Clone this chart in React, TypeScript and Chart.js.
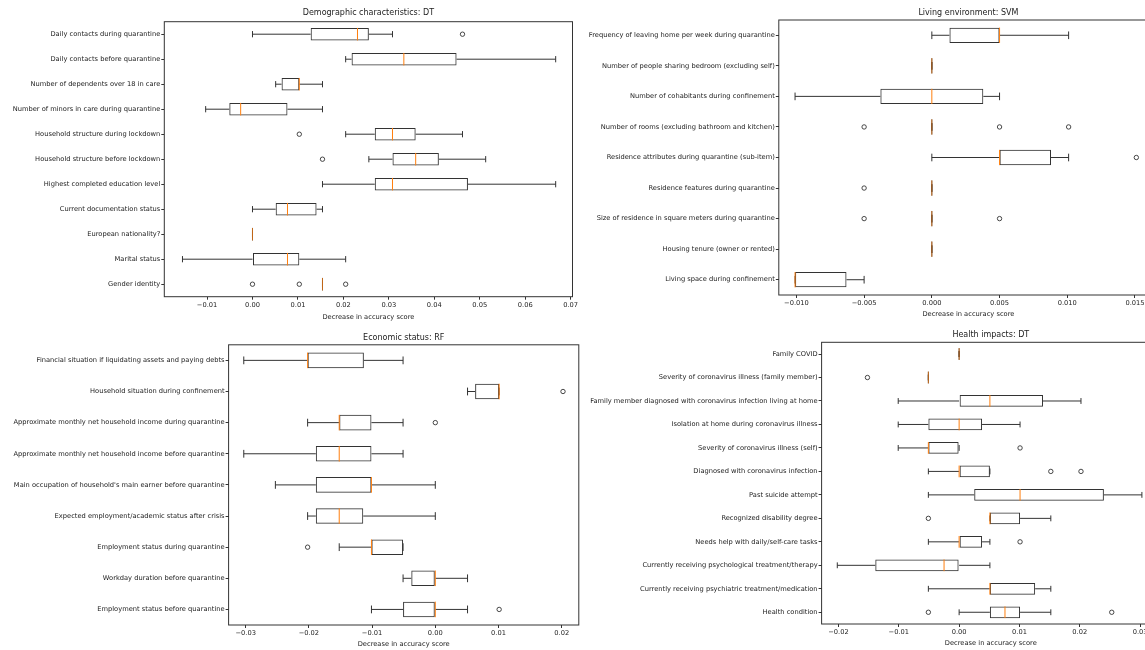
import React, { useEffect, useRef } from "react";
import { Chart, registerables } from "chart.js";

Chart.register(...registerables);

const FONT = "'DejaVu Sans', sans-serif";
const LINE = "#333333";
const MED = "#ff7f0e";
const TEXT = "#222222";
const XLABEL = "Decrease in accuracy score";

// ---------- Panel 1: Demographic characteristics: DT ----------
const demoTitle = "Demographic characteristics: DT";
const demoLabels = [
  "Daily contacts during quarantine",
  "Daily contacts before quarantine",
  "Number of dependents over 18 in care",
  "Number of minors in care during quarantine",
  "Household structure during lockdown",
  "Household structure before lockdown",
  "Highest completed education level",
  "Current documentation status",
  "European nationality?",
  "Marital status",
  "Gender identity",
];
const demoLow = [0, 0.0205, 0.0051, -0.0103, 0.0205, 0.0256, 0.0154, 0, 0, -0.0154, 0.0154];
const demoQ1 = [0.0128, 0.0218, 0.0064, -0.0051, 0.0269, 0.0308, 0.0269, 0.0051, 0, 0, 0.0154];
const demoMed = [0.0231, 0.0333, 0.0103, -0.0026, 0.0308, 0.0359, 0.0308, 0.0077, 0, 0.0077, 0.0154];
const demoQ3 = [0.0256, 0.0449, 0.0103, 0.0077, 0.0359, 0.041, 0.0474, 0.0141, 0, 0.0103, 0.0154];
const demoHigh = [0.0308, 0.0667, 0.0154, 0.0154, 0.0462, 0.0513, 0.0667, 0.0154, 0, 0.0205, 0.0154];
const demoFliers = [[0.0462], [], [], [], [0.0103], [0.0154], [], [], [], [], [0, 0.0103, 0.0205]];
const demoTicks = { min: -0.0194, max: 0.0704, step: 0.01, decimals: 2 };

// ---------- Panel 2: Living environment: SVM ----------
const livTitle = "Living environment: SVM";
const livLabels = [
  "Frequency of leaving home per week during quarantine",
  "Number of people sharing bedroom (excluding self)",
  "Number of cohabitants during confinement",
  "Number of rooms (excluding bathroom and kitchen)",
  "Residence attributes during quarantine (sub-item)",
  "Residence features during quarantine",
  "Size of residence in square meters during quarantine",
  "Housing tenure (owner or rented)",
  "Living space during confinement",
];
const livLow = [0, 0, -0.0101, 0, 0, 0, 0, 0, -0.0101];
const livQ1 = [0.0013, 0, -0.0038, 0, 0.005, 0, 0, 0, -0.0101];
const livMed = [0.005, 0, 0, 0, 0.005, 0, 0, 0, -0.0101];
const livQ3 = [0.005, 0, 0.0038, 0, 0.0088, 0, 0, 0, -0.0063];
const livHigh = [0.0101, 0, 0.005, 0, 0.0101, 0, 0, 0, -0.005];
const livFliers = [[], [], [], [-0.005, 0.005, 0.0101], [0.0151], [-0.005], [-0.005, 0.005], [], []];
const livTicks = { min: -0.0113, max: 0.0167, step: 0.005, decimals: 3 };

// ---------- Panel 3: Economic status: RF ----------
const ecoTitle = "Economic status: RF";
const ecoLabels = [
  "Financial situation if liquidating assets and paying debts",
  "Household situation during confinement",
  "Approximate monthly net household income during quarantine",
  "Approximate monthly net household income before quarantine",
  "Main occupation of household's main earner before quarantine",
  "Expected employment/academic status after crisis",
  "Employment status during quarantine",
  "Workday duration before quarantine",
  "Employment status before quarantine",
];
const ecoLow = [-0.0303, 0.0051, -0.0202, -0.0303, -0.0253, -0.0202, -0.0152, -0.0051, -0.0101];
const ecoQ1 = [-0.0202, 0.0063, -0.0152, -0.0189, -0.0189, -0.0189, -0.0101, -0.0038, -0.0051];
const ecoMed = [-0.0202, 0.0101, -0.0152, -0.0152, -0.0101, -0.0152, -0.0101, 0, 0];
const ecoQ3 = [-0.0113, 0.0101, -0.0101, -0.0101, -0.0101, -0.0114, -0.0051, 0, 0];
const ecoHigh = [-0.0051, 0.0101, -0.0051, -0.0051, 0, 0, -0.0051, 0.0051, 0.0051];
const ecoFliers = [[], [0.0202], [0], [], [], [], [-0.0202], [], [0.0101]];
const ecoTicks = { min: -0.0327, max: 0.0227, step: 0.01, decimals: 2 };

// ---------- Panel 4: Health impacts: DT ----------
const hltTitle = "Health impacts: DT";
const hltLabels = [
  "Family COVID",
  "Severity of coronavirus illness (family member)",
  "Family member diagnosed with coronavirus infection living at home",
  "Isolation at home during coronavirus illness",
  "Severity of coronavirus illness (self)",
  "Diagnosed with coronavirus infection",
  "Past suicide attempt",
  "Recognized disability degree",
  "Needs help with daily/self-care tasks",
  "Currently receiving psychological treatment/therapy",
  "Currently receiving psychiatric treatment/medication",
  "Health condition",
];
const hltLow = [0, -0.0051, -0.0101, -0.0101, -0.0101, -0.0051, -0.0051, 0.0051, -0.0051, -0.0202, -0.0051, 0];
const hltQ1 = [0, -0.0051, 0, -0.0051, -0.0051, 0, 0.0025, 0.0051, 0, -0.0139, 0.0051, 0.0051];
const hltMed = [0, -0.0051, 0.0051, 0, -0.0051, 0, 0.0101, 0.0051, 0, -0.0025, 0.0051, 0.0076];
const hltQ3 = [0, -0.0051, 0.0139, 0.0038, 0, 0.0051, 0.024, 0.0101, 0.0038, 0, 0.0126, 0.0101];
const hltHigh = [0, -0.0051, 0.0202, 0.0101, 0, 0.0051, 0.0303, 0.0152, 0.0051, 0.0051, 0.0152, 0.0152];
const hltFliers = [[], [-0.0152], [], [], [0.0101], [0.0152, 0.0202], [], [-0.0051], [0.0101], [], [], [-0.0051, 0.0253]];
const hltTicks = { min: -0.0228, max: 0.0333, step: 0.01, decimals: 2 };

type Stats = {
  title: string;
  labels: string[];
  low: number[];
  q1: number[];
  med: number[];
  q3: number[];
  high: number[];
  fliers: number[][];
  ticks: { min: number; max: number; step: number; decimals: number };
};

type Layout = {
  left: number;
  top: number;
  width: number;
  height: number;
  yWidth: number;
  xHeight: number;
  padRight: number;
  titlePadTop: number;
  titlePadBottom: number;
};

function makeBoxPlugin(s: Stats) {
  return {
    id: "boxWhiskers",
    afterDatasetsDraw(chart: any) {
      const xs = chart.scales.x;
      const ys = chart.scales.y;
      const ctx = chart.ctx as CanvasRenderingContext2D;
      const row = Math.abs(ys.getPixelForValue(1) - ys.getPixelForValue(0));
      const hb = row * 0.25;
      const hc = row * 0.125;
      ctx.save();
      ctx.lineWidth = 1;
      for (let i = 0; i < s.labels.length; i++) {
        const yc = ys.getPixelForValue(i);
        const pL = xs.getPixelForValue(s.low[i]);
        const p1 = xs.getPixelForValue(s.q1[i]);
        const pM = xs.getPixelForValue(s.med[i]);
        const p3 = xs.getPixelForValue(s.q3[i]);
        const pH = xs.getPixelForValue(s.high[i]);
        ctx.strokeStyle = LINE;
        ctx.beginPath();
        ctx.moveTo(pL, yc);
        ctx.lineTo(p1, yc);
        ctx.moveTo(p3, yc);
        ctx.lineTo(pH, yc);
        ctx.moveTo(pL, yc - hc);
        ctx.lineTo(pL, yc + hc);
        ctx.moveTo(pH, yc - hc);
        ctx.lineTo(pH, yc + hc);
        if (s.q1[i] === s.q3[i]) {
          ctx.moveTo(p1, yc - hb);
          ctx.lineTo(p1, yc + hb);
        }
        ctx.stroke();
        ctx.globalAlpha = s.q1[i] === s.q3[i] ? 0.7 : 1;
        ctx.strokeStyle = MED;
        ctx.beginPath();
        ctx.moveTo(pM, yc - hb);
        ctx.lineTo(pM, yc + hb);
        ctx.stroke();
        ctx.globalAlpha = 1;
      }
      ctx.restore();
    },
  };
}

const framePlugin = {
  id: "frame",
  afterDraw(chart: any) {
    const { left, top, right, bottom } = chart.chartArea;
    const ctx = chart.ctx as CanvasRenderingContext2D;
    ctx.save();
    ctx.strokeStyle = LINE;
    ctx.lineWidth = 1;
    ctx.strokeRect(left, top, right - left, bottom - top);
    ctx.restore();
  },
};

function fmt(decimals: number) {
  return (v: any) => {
    let n = Number(v);
    if (Math.abs(n) < 1e-12) n = 0;
    return n.toFixed(decimals).replace("-", "\u2212");
  };
}

function BoxPanel({ s, l }: { s: Stats; l: Layout }) {
  const ref = useRef<HTMLCanvasElement | null>(null);
  useEffect(() => {
    if (!ref.current) return;
    const flierPoints = s.fliers.flatMap((vals, i) => vals.map((v) => ({ x: v, y: s.labels[i] })));
    const chart = new Chart(ref.current, {
      type: "bar",
      data: {
        labels: s.labels,
        datasets: [
          {
            type: "bar",
            data: s.labels.map((_, i) => [s.q1[i], s.q3[i]]) as any,
            backgroundColor: "rgba(0,0,0,0)",
            borderColor: LINE,
            borderWidth: 1,
            borderSkipped: false,
            barPercentage: 0.5,
            categoryPercentage: 1,
          } as any,
          {
            type: "scatter",
            data: flierPoints as any,
            pointStyle: "circle",
            pointRadius: 2.2,
            pointBackgroundColor: "rgba(0,0,0,0)",
            pointBorderColor: LINE,
            pointBorderWidth: 0.9,
            showLine: false,
          } as any,
        ],
      },
      options: {
        indexAxis: "y",
        responsive: false,
        animation: false,
        devicePixelRatio: 1,
        events: [],
        layout: { padding: { left: 0, right: l.padRight, top: 0, bottom: 0 } },
        plugins: {
          legend: { display: false },
          tooltip: { enabled: false },
          title: {
            display: true,
            fullSize: false,
            text: s.title,
            color: TEXT,
            font: { family: FONT, size: 8, weight: "normal" },
            padding: { top: l.titlePadTop, bottom: l.titlePadBottom },
          },
        },
        scales: {
          x: {
            type: "linear",
            min: s.ticks.min,
            max: s.ticks.max,
            grid: { drawOnChartArea: false, drawTicks: true, tickLength: 3, color: LINE },
            border: { display: false },
            ticks: {
              stepSize: s.ticks.step,
              includeBounds: false,
              autoSkip: false,
              maxRotation: 0,
              padding: 1.6,
              color: TEXT,
              font: { family: FONT, size: 6.7 },
              callback: fmt(s.ticks.decimals),
            },
            title: {
              display: true,
              text: XLABEL,
              color: TEXT,
              font: { family: FONT, size: 6.7 },
              padding: 0,
            },
            afterFit: (sc: any) => {
              sc.height = l.xHeight;
            },
          },
          y: {
            type: "category",
            labels: s.labels,
            grid: { offset: false, drawOnChartArea: false, drawTicks: true, tickLength: 3, color: LINE },
            border: { display: false },
            ticks: {
              autoSkip: false,
              padding: 1,
              color: TEXT,
              font: { family: FONT, size: 6.7 },
            },
            afterFit: (sc: any) => {
              sc.width = l.yWidth;
            },
          },
        },
      } as any,
      plugins: [makeBoxPlugin(s), framePlugin],
    });
    return () => chart.destroy();
  }, []);
  return (
    <canvas
      ref={ref}
      width={l.width}
      height={l.height}
      style={{ position: "absolute", left: l.left, top: l.top, width: l.width, height: l.height }}
    />
  );
}

const demoStats: Stats = { title: demoTitle, labels: demoLabels, low: demoLow, q1: demoQ1, med: demoMed, q3: demoQ3, high: demoHigh, fliers: demoFliers, ticks: demoTicks };
const livStats: Stats = { title: livTitle, labels: livLabels, low: livLow, q1: livQ1, med: livMed, q3: livQ3, high: livHigh, fliers: livFliers, ticks: livTicks };
const ecoStats: Stats = { title: ecoTitle, labels: ecoLabels, low: ecoLow, q1: ecoQ1, med: ecoMed, q3: ecoQ3, high: ecoHigh, fliers: ecoFliers, ticks: ecoTicks };
const hltStats: Stats = { title: hltTitle, labels: hltLabels, low: hltLow, q1: hltQ1, med: hltMed, q3: hltQ3, high: hltHigh, fliers: hltFliers, ticks: hltTicks };

const demoLayout: Layout = { left: 0, top: 0, width: 593, height: 321, yWidth: 164.3, xHeight: 24.3, padRight: 20.5, titlePadTop: 8.2, titlePadBottom: 3.9 };
const livLayout: Layout = { left: 570, top: 0, width: 608, height: 318, yWidth: 208.8, xHeight: 23, padRight: 20, titlePadTop: 8.5, titlePadBottom: 1.9 };
const ecoLayout: Layout = { left: 0, top: 325, width: 599, height: 323, yWidth: 228.6, xHeight: 23, padRight: 20.2, titlePadTop: 8.5, titlePadBottom: 1.7 };
const hltLayout: Layout = { left: 570, top: 325, width: 610, height: 322, yWidth: 251.6, xHeight: 23, padRight: 20, titlePadTop: 5.2, titlePadBottom: 2.5 };

export default function App() {
  return (
    <div
      style={{
        position: "fixed",
        left: 0,
        top: 0,
        width: 1145,
        height: 650,
        overflow: "hidden",
        background: "#ffffff",
      }}
    >
      <BoxPanel s={demoStats} l={demoLayout} />
      <BoxPanel s={livStats} l={livLayout} />
      <BoxPanel s={ecoStats} l={ecoLayout} />
      <BoxPanel s={hltStats} l={hltLayout} />
    </div>
  );
}
